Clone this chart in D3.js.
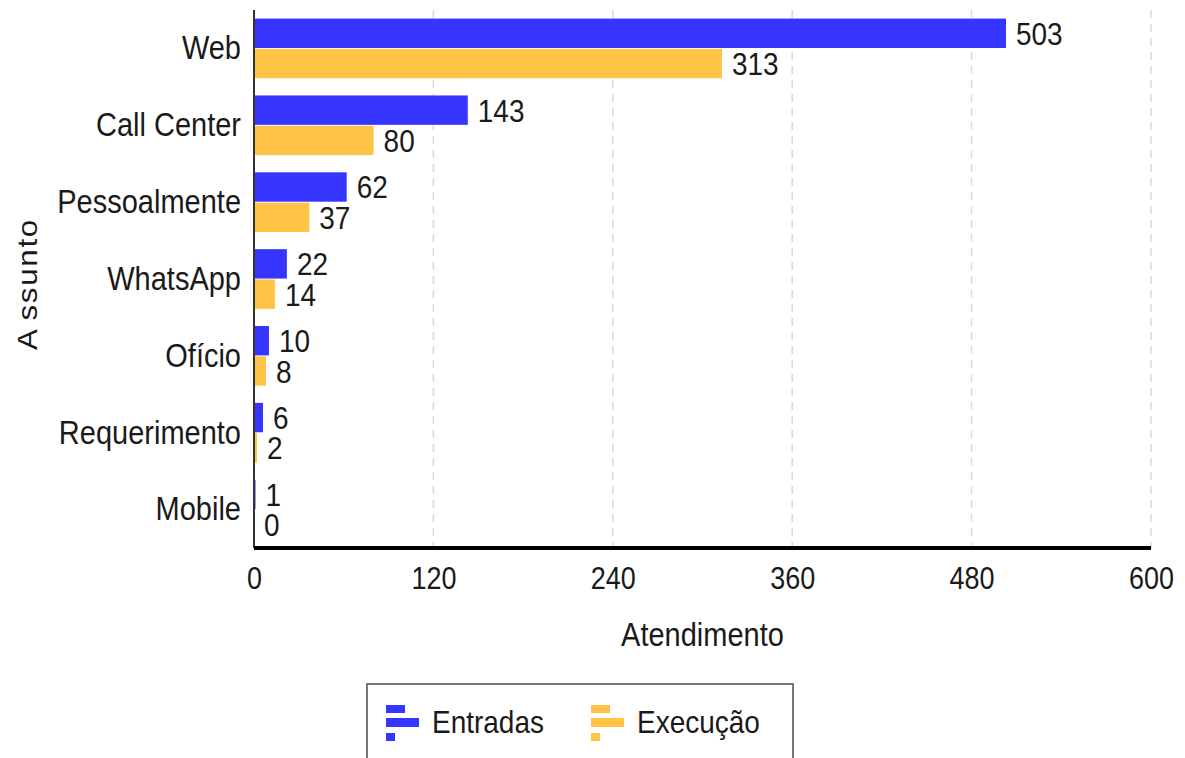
<!DOCTYPE html>
<html><head><meta charset="utf-8">
<script src="https://cdn.jsdelivr.net/npm/d3@7"></script>
<style>body{margin:0;background:#fff}svg{display:block}text{font-family:"Liberation Sans",Arial,sans-serif;fill:#1a1a1a}</style>
</head><body>
<script>
const categories = ["Web","Call Center","Pessoalmente","WhatsApp","Ofício","Requerimento","Mobile"];
const entradas = [503,143,62,22,10,6,1];
const execucao = [313,80,37,14,8,2,0];
const seriesNames = ["Entradas","Execução"];
const xTicks = [0,120,240,360,480,600];
const colors = ["#3535FF","#FFC445"];

const W=1185,H=758;
const svg=d3.select("body").append("svg").attr("width",W).attr("height",H);
const L=254,R=1151,T=10,B=548;
const x=d3.scaleLinear().domain([0,600]).range([L,R]);
const y=d3.scaleBand().domain(categories).range([T,B]).paddingInner(0.2).paddingOuter(0.1);
const ys=d3.scaleBand().domain([0,1]).range([0,y.bandwidth()]).padding(0.03);

// grid
svg.append("g").selectAll("line").data(xTicks.slice(1)).join("line")
 .attr("x1",d=>x(d)).attr("x2",d=>x(d)).attr("y1",T).attr("y2",B)
 .attr("stroke","#d9d9d9").attr("stroke-width",1.5).attr("stroke-dasharray","8,6");

const data=categories.map((c,i)=>({c,vals:[entradas[i],execucao[i]]}));
const g=svg.append("g");
data.forEach(d=>{
  d.vals.forEach((v,j)=>{
    g.append("rect").attr("x",x(0)).attr("y",y(d.c)+ys(j)).attr("width",Math.max(0,x(v)-x(0))).attr("height",ys.bandwidth()).attr("fill",colors[j]);
  });
});
// left axis line
svg.append("line").attr("x1",L).attr("x2",L).attr("y1",T).attr("y2",B).attr("stroke","#333").attr("stroke-width",2);
const labels=svg.append("g").attr("class","stretch");
data.forEach(d=>{
  d.vals.forEach((v,j)=>{
    labels.append("text").attr("x",x(v)+10).attr("y",y(d.c)+ys(j)+ys.bandwidth()/2).attr("dy","0.36em")
      .attr("font-size",28).text(v);
  });
});
// y labels
const yAxis=d3.axisLeft(y).tickSize(0).tickPadding(13);
const ga=svg.append("g").attr("class","stretch").attr("transform",`translate(${L},0)`).call(yAxis);
ga.select(".domain").remove();
ga.selectAll("text").attr("font-size",29).style("font-family","'Liberation Sans',Arial,sans-serif").attr("fill","#1a1a1a");
// x axis
const xAxis=d3.axisBottom(x).tickValues(xTicks).tickSize(0).tickPadding(20);
const gx=svg.append("g").attr("class","stretch").attr("transform",`translate(0,${B})`).call(xAxis);
gx.select(".domain").remove();
gx.selectAll("text").attr("font-size",27).style("font-family","'Liberation Sans',Arial,sans-serif").attr("fill","#1a1a1a");
svg.append("line").attr("x1",L).attr("x2",R).attr("y1",B).attr("y2",B).attr("stroke","#000").attr("stroke-width",4);
// titles
svg.append("g").attr("class","stretch").append("text").attr("x",(L+R)/2).attr("y",645).attr("text-anchor","middle").attr("font-size",29).text("Atendimento");
const yt=svg.append("text").attr("transform","translate(37,284) rotate(-90) scale(1.12,1)").attr("text-anchor","middle").attr("font-size",28)
  .attr("letter-spacing",1.5);
yt.append("tspan").text("A");
yt.append("tspan").attr("dx",6).text("ssunto");
// legend
svg.append("rect").attr("x",367).attr("y",684).attr("width",426).attr("height",90).attr("fill","#fff").attr("stroke","#777").attr("stroke-width",2);
const lx=[386,591];
const lg=svg.append("g").attr("class","stretch");
seriesNames.forEach((n,i)=>{
  const gg=svg.append("g").attr("transform",`translate(${lx[i]},0)`);
  gg.append("rect").attr("x",0).attr("y",705).attr("width",19).attr("height",8).attr("fill",colors[i]);
  gg.append("rect").attr("x",0).attr("y",718).attr("width",33).attr("height",9).attr("fill",colors[i]);
  gg.append("rect").attr("x",0).attr("y",733).attr("width",9).attr("height",8).attr("fill",colors[i]);
  lg.append("text").attr("x",lx[i]+46).attr("y",732).attr("font-size",28).text(n);
});
// slight vertical stretch of glyphs to match reference rendering
const S=1.15;
svg.selectAll(".stretch text").each(function(){
  const bb=this.getBBox();
  const cy=bb.y+bb.height/2;
  const prev=d3.select(this).attr("transform")||"";
  d3.select(this).attr("transform",`${prev} translate(0,${cy}) scale(1,${S}) translate(0,${-cy})`);
});
</script>
</body></html>
